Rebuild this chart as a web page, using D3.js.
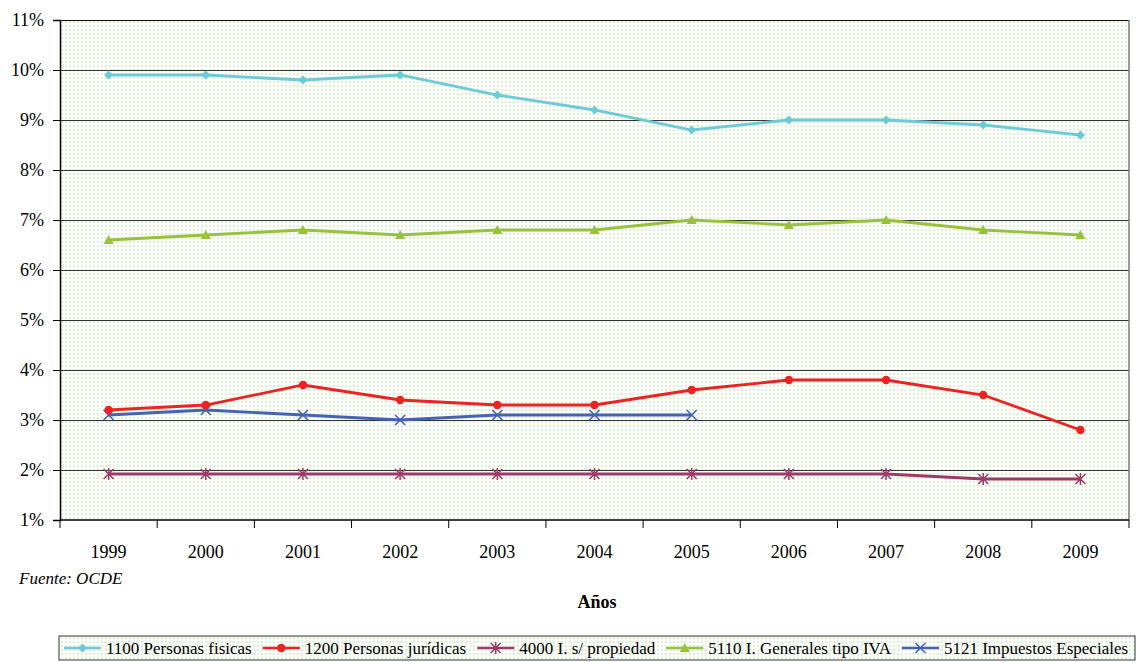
<!DOCTYPE html>
<html><head><meta charset="utf-8">
<script src="https://cdn.jsdelivr.net/npm/d3@7"></script>
<style>body{margin:0;background:#fff;} svg{display:block;} svg text{font-family:"Liberation Serif","Times New Roman",Times,serif !important;}</style>
</head><body><svg id="c" width="1138" height="662"></svg>
<script>
const years = ["1999","2000","2001","2002","2003","2004","2005","2006","2007","2008","2009"];
const yTicks = [1,2,3,4,5,6,7,8,9,10,11];
const personasFisicas = [9.9,9.9,9.8,9.9,9.5,9.2,8.8,9.0,9.0,8.9,8.7];
const personasJuridicas = [3.2,3.3,3.7,3.4,3.3,3.3,3.6,3.8,3.8,3.5,2.8];
const propiedad = [1.92,1.92,1.92,1.92,1.92,1.92,1.92,1.92,1.92,1.82,1.82];
const ivaGeneral = [6.6,6.7,6.8,6.7,6.8,6.8,7.0,6.9,7.0,6.8,6.7];
const especiales = [3.1,3.2,3.1,3.0,3.1,3.1,3.1,null,null,null,null];
const seriesNames = ["1100 Personas fisicas","1200 Personas jurídicas","4000 I. s/ propiedad","5110 I. Generales tipo IVA","5121 Impuestos Especiales"];

const series = [
  {name:seriesNames[0], values:personasFisicas, color:"#6ccbd6", marker:"diamond"},
  {name:seriesNames[1], values:personasJuridicas, color:"#ee2222", marker:"circle"},
  {name:seriesNames[2], values:propiedad, color:"#9c3b68", marker:"star"},
  {name:seriesNames[3], values:ivaGeneral, color:"#98c23c", marker:"triangle"},
  {name:seriesNames[4], values:especiales, color:"#4463b4", marker:"x"}
];

const FONT = "'Liberation Serif','Times New Roman',Times,serif";
const svg = d3.select("#c").attr("font-family",FONT);
const L=60, T=20, R=1129, B=520;
const x = d3.scaleBand().domain(years).range([L,R]);
const y = d3.scaleLinear().domain([1,11]).range([B,T]);

const defs = svg.append("defs");
const pat = defs.append("pattern").attr("id","dots").attr("patternUnits","userSpaceOnUse").attr("width",4).attr("height",4);
pat.append("rect").attr("width",4).attr("height",4).attr("fill","#fbfdfa");
pat.append("rect").attr("x",1).attr("y",1).attr("width",2).attr("height",2).attr("fill","#e0efd6");

svg.append("rect").attr("x",L).attr("y",T).attr("width",R-L).attr("height",B-T).attr("fill","url(#dots)");

// gridlines
svg.append("g").selectAll("line").data(yTicks.filter(d=>d>1)).join("line")
  .attr("x1",L).attr("x2",R).attr("y1",d=>y(d)).attr("y2",d=>y(d))
  .attr("stroke",d=>d===11?"#111":"#333").attr("stroke-width",1).attr("shape-rendering","crispEdges");
svg.append("line").attr("x1",R).attr("x2",R).attr("y1",T).attr("y2",B).attr("stroke","#777").attr("stroke-width",1.5);

// y axis
const yAxis = d3.axisLeft(y).tickValues(yTicks).tickFormat(d=>d+"%").tickSize(7).tickPadding(9);
const ga = svg.append("g").attr("transform",`translate(${L},0)`).call(yAxis);
ga.attr("font-family",FONT);
ga.select(".domain").attr("stroke","#000").attr("stroke-width",1.5);
ga.selectAll(".tick line").attr("stroke","#000");
ga.selectAll("text").attr("font-size",18).attr("fill","#000");

// x axis
const gx = svg.append("g").attr("transform",`translate(0,${B})`);
gx.append("line").attr("x1",L).attr("x2",R).attr("stroke","#000").attr("stroke-width",1.5);
const bounds = years.map(d=>x(d)).concat([R]);
gx.selectAll("line.t").data(bounds).join("line").attr("class","t")
  .attr("x1",d=>d).attr("x2",d=>d).attr("y1",0).attr("y2",8).attr("stroke","#000");
gx.selectAll("text").data(years).join("text")
  .attr("x",d=>x(d)+x.bandwidth()/2).attr("y",38).attr("text-anchor","middle")
  .attr("font-size",18).text(d=>d);

svg.append("text").attr("x",19).attr("y",584).attr("font-size",17).attr("font-style","italic").text("Fuente: OCDE");
svg.append("text").attr("x",597).attr("y",608).attr("font-size",18).attr("font-weight","bold").attr("text-anchor","middle").text("Años");

function drawMarker(g, type, color){
  if(type==="diamond") g.append("path").attr("d","M0,-4.5L4.5,0L0,4.5L-4.5,0Z").attr("fill",color);
  else if(type==="circle") g.append("circle").attr("r",4.2).attr("fill",color);
  else if(type==="triangle") g.append("path").attr("d","M0,-5L5,4L-5,4Z").attr("fill",color);
  else if(type==="star") g.append("path").attr("d","M-5,-5L5,5M-5,5L5,-5M0,-6L0,6").attr("stroke",color).attr("stroke-width",1.5).attr("fill","none");
  else if(type==="x") g.append("path").attr("d","M-5,-5L5,5M-5,5L5,-5").attr("stroke",color).attr("stroke-width",1.6).attr("fill","none");
}

const cx = d=>x(d)+x.bandwidth()/2;
const order = [2,4,1,3,0];
order.forEach(i=>{
  const s = series[i];
  const pts = years.map((yr,j)=>({yr, v:s.values[j]}));
  const line = d3.line().defined(d=>d.v!=null).x(d=>cx(d.yr)).y(d=>y(d.v));
  svg.append("path").datum(pts).attr("d",line).attr("fill","none").attr("stroke",s.color).attr("stroke-width",2.8);
  pts.filter(d=>d.v!=null).forEach(d=>{
    const g = svg.append("g").attr("transform",`translate(${cx(d.yr)},${y(d.v)})`);
    drawMarker(g, s.marker, s.color);
  });
});

// legend
const lg = svg.append("g");
lg.append("rect").attr("x",59).attr("y",636).attr("width",1076).attr("height",24).attr("fill","url(#dots)").attr("stroke","#555").attr("stroke-width",1.2);
let lx = 64;
series.forEach((s,i)=>{
  const g = lg.append("g");
  g.append("line").attr("x1",lx).attr("x2",lx+37).attr("y1",648).attr("y2",648).attr("stroke",s.color).attr("stroke-width",2.6);
  const mg = g.append("g").attr("transform",`translate(${lx+18.5},648)`);
  drawMarker(mg, s.marker, s.color);
  const t = g.append("text").attr("x",lx+42).attr("y",654).attr("font-size",17).text(s.name);
  lx += 42 + t.node().getComputedTextLength() + 11;
});
</script></body></html>
